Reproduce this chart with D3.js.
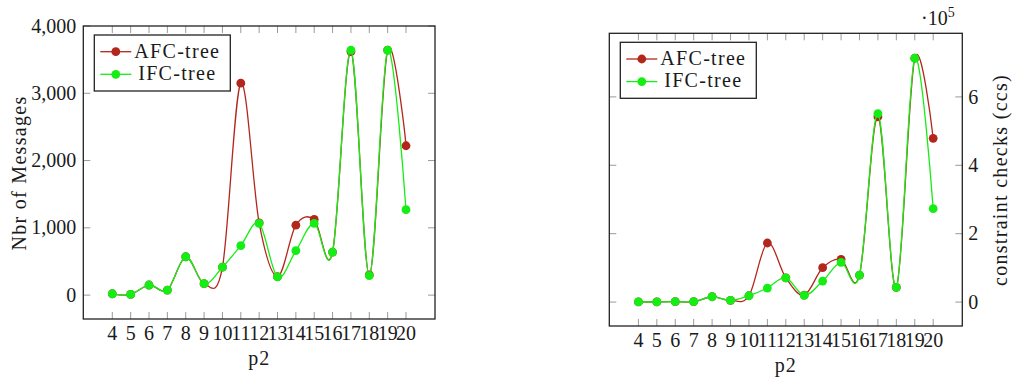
<!DOCTYPE html>
<html>
<head>
<meta charset="utf-8">
<script src="https://cdn.jsdelivr.net/npm/d3@7"></script>
<style>
  html, body { margin: 0; padding: 0; background: #fff; }
  svg { display: block; }
  text { font-family: "Liberation Serif", "Times New Roman", serif; fill: #1a1a1a; }
</style>
</head>
<body>
<svg id="chart" width="1014" height="378"></svg>
<script>
// p2 parameter values along the x axis
const p2 = [4, 5, 6, 7, 8, 9, 10, 11, 12, 13, 14, 15, 16, 17, 18, 19, 20];

// Number of messages exchanged
const afcMessages = [20, 10, 150, 75, 570, 170, 415, 3150, 1075, 275, 1040, 1125, 640, 3620, 300, 3640, 2220];
const ifcMessages = [20, 10, 150, 75, 570, 170, 415, 735, 1065, 270, 660, 1065, 640, 3640, 290, 3640, 1270];

// Constraint checks (ccs)
const afcChecks = [300, 300, 1000, 1000, 15600, 5000, 18500, 172700, 71000, 20500, 100500, 125000, 79000, 542000, 43000, 713000, 479000];
const ifcChecks = [300, 300, 1000, 1000, 15600, 5000, 18500, 41000, 71000, 19500, 61500, 116000, 79000, 551000, 43000, 713000, 273000];

// Tick values and labels
const messageTicks = [0, 1000, 2000, 3000, 4000];
const checkTicks = [0, 200000, 400000, 600000];
const checkTickLabels = ["0", "2", "4", "6"];

const seriesNames = ["AFC-tree", "IFC-tree"];
const seriesColors = ["#b3261c", "#14ee14"];

const svg = d3.select("#chart");
const TICK = 7;

function drawPanel(opt) {
  const g = svg.append("g");
  const x = d3.scaleLinear().domain([2.42, 21.58]).range([opt.left, opt.right]);
  const y = d3.scaleLinear().domain(opt.yDomain).range([opt.bottom, opt.top]);

  // inner tick marks on all four sides
  const tickG = g.append("g").attr("stroke", "#9a9a9a").attr("stroke-width", 1);
  p2.forEach(v => {
    tickG.append("line").attr("x1", x(v)).attr("x2", x(v)).attr("y1", opt.bottom).attr("y2", opt.bottom - TICK);
    tickG.append("line").attr("x1", x(v)).attr("x2", x(v)).attr("y1", opt.top).attr("y2", opt.top + TICK);
  });
  opt.yTicks.forEach(v => {
    tickG.append("line").attr("x1", opt.left).attr("x2", opt.left + TICK).attr("y1", y(v)).attr("y2", y(v));
    tickG.append("line").attr("x1", opt.right).attr("x2", opt.right - TICK).attr("y1", y(v)).attr("y2", y(v));
  });

  // x tick labels
  g.append("g").selectAll("text").data(p2).join("text")
    .attr("x", d => x(d)).attr("y", opt.bottom + 21)
    .attr("text-anchor", "middle").attr("font-size", 20)
    .text(d => d);

  // y tick labels
  g.append("g").selectAll("text").data(opt.yTicks).join("text")
    .attr("x", opt.yLabelSide === "left" ? opt.left - 7 : opt.right + 6)
    .attr("y", d => y(d)).attr("dy", "0.33em")
    .attr("text-anchor", opt.yLabelSide === "left" ? "end" : "start")
    .attr("font-size", 20)
    .text((d, i) => opt.yTickFormat(d, i));

  // series lines and markers
  const line = d3.line()
    .x((d, i) => x(p2[i]))
    .y(d => y(d))
    .curve(d3.curveCardinal.tension(0));

  opt.series.forEach((vals, si) => {
    g.append("path").datum(vals)
      .attr("d", line)
      .attr("fill", "none")
      .attr("stroke", seriesColors[si])
      .attr("stroke-width", 1.3);
    g.append("g").selectAll("circle").data(vals).join("circle")
      .attr("cx", (d, i) => x(p2[i]))
      .attr("cy", d => y(d))
      .attr("r", 4.4)
      .attr("fill", seriesColors[si]);
  });

  // axis frame
  g.append("rect")
    .attr("x", opt.left).attr("y", opt.top)
    .attr("width", opt.right - opt.left).attr("height", opt.bottom - opt.top)
    .attr("fill", "none").attr("stroke", "#222").attr("stroke-width", 1.3);

  // legend
  const lx = opt.left + 11, ly = opt.top + 9;
  const lg = g.append("g");
  lg.append("rect")
    .attr("x", lx).attr("y", ly).attr("width", 136).attr("height", 56)
    .attr("fill", "#fff").attr("stroke", "#222").attr("stroke-width", 1.3);
  seriesNames.forEach((name, si) => {
    const cy = ly + 16.7 + si * 22.6;
    lg.append("line")
      .attr("x1", lx + 6).attr("x2", lx + 37).attr("y1", cy).attr("y2", cy)
      .attr("stroke", seriesColors[si]).attr("stroke-width", 1.3);
    lg.append("circle").attr("cx", lx + 21.5).attr("cy", cy).attr("r", 4.4).attr("fill", seriesColors[si]);
    lg.append("text")
      .attr("x", lx + 83).attr("y", cy + 5.8)
      .attr("text-anchor", "middle").attr("font-size", 20)
      .attr("letter-spacing", 1.3)
      .text(name);
  });

  // x axis title
  g.append("text")
    .attr("x", (opt.left + opt.right) / 2).attr("y", opt.bottom + 46)
    .attr("text-anchor", "middle").attr("font-size", 20).attr("letter-spacing", 1)
    .text("p2");

  return { g, x, y };
}

// Left panel: number of messages
const left = drawPanel({
  left: 83.3, right: 435, top: 26, bottom: 319,
  yDomain: [-355, 4000],
  yTicks: messageTicks,
  yTickFormat: d => d3.format(",")(d),
  yLabelSide: "left",
  series: [afcMessages, ifcMessages]
});
left.g.append("text")
  .attr("transform", "translate(26,173) rotate(-90)")
  .attr("text-anchor", "middle").attr("font-size", 20).attr("letter-spacing", 1.3)
  .text("Nbr of Messages");

// Right panel: constraint checks, labelled in units of 10^5
const right = drawPanel({
  left: 609.3, right: 962.3, top: 33.3, bottom: 326,
  yDomain: [-70000, 786000],
  yTicks: checkTicks,
  yTickFormat: (d, i) => checkTickLabels[i],
  yLabelSide: "right",
  series: [afcChecks, ifcChecks]
});
right.g.append("text")
  .attr("transform", "translate(1007,180) rotate(-90)")
  .attr("text-anchor", "middle").attr("font-size", 20).attr("letter-spacing", 1.3)
  .text("constraint checks (ccs)");
const mult = right.g.append("text")
  .attr("x", 921).attr("y", 25).attr("font-size", 20);
mult.append("tspan").text("\u00b710");
mult.append("tspan").attr("dy", -8).attr("font-size", 14).text("5");
</script>
</body>
</html>
